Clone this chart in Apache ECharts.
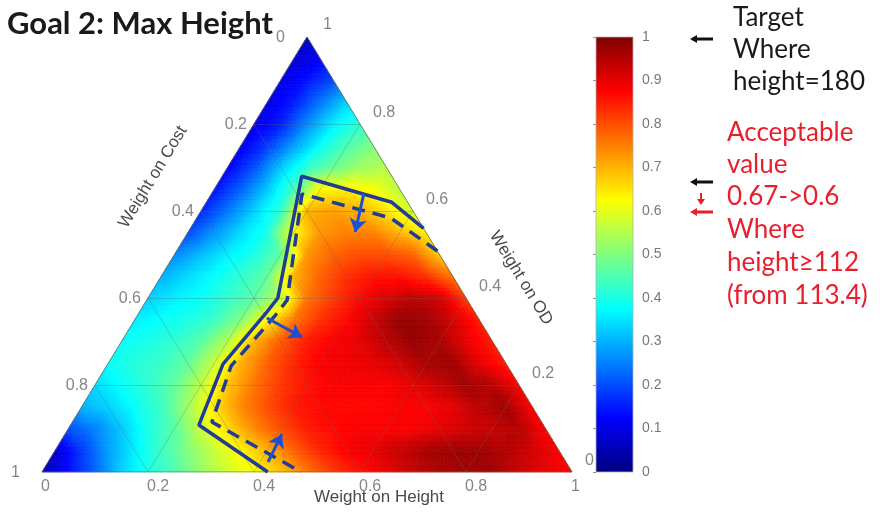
<!DOCTYPE html>
<html>
<head>
<meta charset="utf-8">
<script src="https://cdn.jsdelivr.net/npm/echarts@6/dist/echarts.min.js"></script>
<style>
  html, body { margin: 0; padding: 0; background: #ffffff; }
  #chart { width: 880px; height: 512px; }
</style>
</head>
<body>
<div id="chart"></div>
<script>
// Ternary weights: h = Weight on Height, c = Weight on Cost, o = Weight on OD (h + c + o = 1).
// Score lattice: one row per OD weight (0, 0.05, ..., 1); each row runs over the Height weight from 0 upward.
const weightStep = 0.05;
const scoreByOdRow = [
  [0.04, 0.13, 0.22, 0.33, 0.40, 0.45, 0.52, 0.58, 0.62, 0.68, 0.76, 0.82, 0.86, 0.90, 0.93, 0.96, 0.97, 0.97, 0.93, 0.90, 0.88],
  [0.08, 0.18, 0.28, 0.36, 0.43, 0.50, 0.57, 0.63, 0.70, 0.78, 0.84, 0.88, 0.90, 0.93, 0.96, 0.97, 0.97, 0.95, 0.92, 0.88],
  [0.20, 0.25, 0.32, 0.40, 0.46, 0.57, 0.66, 0.74, 0.80, 0.85, 0.87, 0.88, 0.88, 0.88, 0.90, 0.92, 0.93, 0.95, 0.88],
  [0.30, 0.33, 0.38, 0.43, 0.53, 0.65, 0.74, 0.80, 0.85, 0.87, 0.87, 0.87, 0.88, 0.88, 0.90, 0.94, 0.97, 0.88],
  [0.34, 0.38, 0.42, 0.47, 0.56, 0.68, 0.76, 0.82, 0.86, 0.88, 0.88, 0.88, 0.90, 0.93, 0.97, 0.95, 0.88],
  [0.38, 0.41, 0.43, 0.47, 0.57, 0.70, 0.78, 0.84, 0.88, 0.89, 0.90, 0.92, 0.96, 0.97, 0.90, 0.85],
  [0.38, 0.40, 0.42, 0.46, 0.55, 0.70, 0.79, 0.85, 0.88, 0.90, 0.94, 0.98, 0.96, 0.90, 0.85],
  [0.36, 0.38, 0.40, 0.43, 0.50, 0.63, 0.76, 0.83, 0.87, 0.93, 0.98, 0.97, 0.92, 0.85],
  [0.33, 0.36, 0.38, 0.42, 0.46, 0.56, 0.76, 0.82, 0.87, 0.91, 0.94, 0.92, 0.82],
  [0.30, 0.34, 0.38, 0.42, 0.47, 0.70, 0.78, 0.83, 0.86, 0.86, 0.83, 0.76],
  [0.26, 0.31, 0.36, 0.40, 0.47, 0.73, 0.78, 0.80, 0.80, 0.78, 0.68],
  [0.20, 0.27, 0.34, 0.40, 0.62, 0.73, 0.75, 0.75, 0.70, 0.64],
  [0.16, 0.24, 0.33, 0.42, 0.70, 0.72, 0.70, 0.65, 0.58],
  [0.14, 0.22, 0.32, 0.44, 0.63, 0.64, 0.62, 0.56],
  [0.12, 0.20, 0.32, 0.42, 0.48, 0.53, 0.55],
  [0.11, 0.18, 0.28, 0.38, 0.45, 0.50],
  [0.10, 0.15, 0.26, 0.36, 0.42],
  [0.10, 0.15, 0.24, 0.33],
  [0.10, 0.14, 0.20],
  [0.08, 0.12],
  [0.06]
];

// Axis ticks and labels
const ternaryTicks = [0, 0.2, 0.4, 0.6, 0.8, 1];
const heightTickLabels = ['0', '0.2', '0.4', '0.6', '0.8', '1'];
const costTickLabels = ['0', '0.2', '0.4', '0.6', '0.8', '1'];
const odTickLabels = ['0', '0.2', '0.4', '0.6', '0.8', '1'];
const innerGridWeights = [0.2, 0.4, 0.6, 0.8];
const colorbarTicks = [0, 0.1, 0.2, 0.3, 0.4, 0.5, 0.6, 0.7, 0.8, 0.9, 1];

// Acceptable-region boundaries as [Height weight, OD weight]
const boundaryAt067 = [[0.44, 0.56], [0.35, 0.62], [0.15, 0.68], [0.245, 0.40], [0.24, 0.365], [0.2175, 0.248], [0.242, 0.108], [0.426, 0]];
const boundaryAt060 = [[0.492, 0.508], [0.366, 0.584], [0.171, 0.639], [0.265, 0.395], [0.26, 0.359], [0.235, 0.244], [0.263, 0.115], [0.489, 0]];
const boundaryShifts = [
  [[0.287, 0.641], [0.315, 0.552]],
  [[0.2475, 0.354], [0.3355, 0.31]],
  [[0.415, 0.023], [0.409, 0.087]]
];

// ---- helpers ----
// Ternary (h, o) -> plane coordinates of the triangle grid (Height corner right, OD corner on top)
const toXY = (h, o) => [h + o / 2, o];
const clamp01 = v => Math.max(0, Math.min(1, v));
function jetColor(v) {
  v = clamp01(v);
  const r = clamp01(1.5 - Math.abs(4 * v - 3));
  const g = clamp01(1.5 - Math.abs(4 * v - 2));
  const b = clamp01(1.5 - Math.abs(4 * v - 1));
  return 'rgb(' + Math.round(r * 255) + ',' + Math.round(g * 255) + ',' + Math.round(b * 255) + ')';
}

// Triangular cells of the score lattice
const nSteps = scoreByOdRow.length - 1;
const vertexOf = (i, k) => {
  const p = toXY(i * weightStep, k * weightStep);
  return [p[0], p[1], scoreByOdRow[k][i]];
};
const cellData = [];
for (let k = 0; k < nSteps; k++) {
  for (let i = 0; i < nSteps - k; i++) {
    cellData.push([].concat(vertexOf(i, k), vertexOf(i + 1, k), vertexOf(i, k + 1)));
    if (i < nSteps - k - 1) {
      cellData.push([].concat(vertexOf(i + 1, k), vertexOf(i + 1, k + 1), vertexOf(i, k + 1)));
    }
  }
}

// Interpolated shading of one lattice cell
function renderCell(params, api) {
  const P = [0, 1, 2].map(j => api.coord([api.value(3 * j), api.value(3 * j + 1)]));
  const V = [0, 1, 2].map(j => api.value(3 * j + 2));
  const n = 6;
  const at = (a, b) => {
    const w1 = a / n, w2 = b / n, w0 = 1 - w1 - w2;
    return [w0 * P[0][0] + w1 * P[1][0] + w2 * P[2][0], w0 * P[0][1] + w1 * P[1][1] + w2 * P[2][1]];
  };
  const valAt = (a, b) => {
    const w1 = a / n, w2 = b / n, w0 = 1 - w1 - w2;
    return w0 * V[0] + w1 * V[1] + w2 * V[2];
  };
  const children = [];
  const tri = (p, q, r, v) => {
    const c = jetColor(v);
    children.push({
      type: 'polygon',
      shape: { points: [p, q, r] },
      style: { fill: c, stroke: c, lineWidth: 0.7 },
      silent: true
    });
  };
  for (let a = 0; a < n; a++) {
    for (let b = 0; b < n - a; b++) {
      tri(at(a, b), at(a + 1, b), at(a, b + 1), (valAt(a, b) + valAt(a + 1, b) + valAt(a, b + 1)) / 3);
      if (a + b < n - 1) {
        tri(at(a + 1, b), at(a + 1, b + 1), at(a, b + 1), (valAt(a + 1, b) + valAt(a + 1, b + 1) + valAt(a, b + 1)) / 3);
      }
    }
  }
  return { type: 'group', children: children };
}

// Inner grid lines at constant Height, OD and Cost weights
const gridSegments = [];
innerGridWeights.forEach(t => {
  gridSegments.push({ coords: [toXY(t, 0), toXY(t, 1 - t)] });
  gridSegments.push({ coords: [toXY(0, t), toXY(1 - t, t)] });
  gridSegments.push({ coords: [toXY(1 - t, 0), toXY(0, 1 - t)] });
});
const outline = [toXY(0, 0), toXY(1, 0), toXY(0, 1), toXY(0, 0)];

const tickFont = { fontFamily: 'Liberation Sans', fontSize: 16, color: '#666666' };
const heightLabelData = ternaryTicks.map((t, idx) => ({
  value: toXY(t, 0),
  label: Object.assign({ formatter: heightTickLabels[idx], align: 'left', verticalAlign: 'middle', offset: [-1, 15] }, tickFont)
}));
const costLabelData = ternaryTicks.map((t, idx) => {
  const corner = (idx === 0 || idx === ternaryTicks.length - 1);
  return {
    value: toXY(0, 1 - t),
    label: Object.assign({ formatter: costTickLabels[idx], align: 'right', verticalAlign: 'middle', offset: [corner ? -22 : -7, 1] }, tickFont)
  };
});
const odLabelData = ternaryTicks.map((t, idx) => ({
  value: toXY(1 - t, t),
  label: Object.assign({ formatter: odTickLabels[idx], align: 'left', verticalAlign: 'middle', offset: [idx === ternaryTicks.length - 1 ? 16 : 13, idx === ternaryTicks.length - 1 ? -12 : -11] }, tickFont)
}));
const labelSeries = data => ({
  type: 'scatter', xAxisIndex: 0, yAxisIndex: 0, symbolSize: 0, silent: true, z: 8,
  label: { show: true, position: 'inside' },
  data: data
});

const colorbarGradient = new echarts.graphic.LinearGradient(0, 1, 0, 0,
  [0, 0.125, 0.375, 0.625, 0.875, 1].map(s => ({ offset: s, color: jetColor(s) })));

const boundaryBlue = '#1f3d96';
const arrowBlue = '#1d4fd1';
const noteFont = 'Lato';
const noteSize = 26;

const option = {
  animation: false,
  backgroundColor: '#ffffff',
  grid: [
    { left: 42, top: 37, width: 530, height: 435 },
    { left: 596, top: 37, width: 37, height: 435 }
  ],
  xAxis: [
    { type: 'value', gridIndex: 0, min: 0, max: 1, show: false },
    { type: 'value', gridIndex: 1, min: 0, max: 1, show: false }
  ],
  yAxis: [
    { type: 'value', gridIndex: 0, min: 0, max: 1, show: false },
    {
      type: 'value', gridIndex: 1, min: 0, max: 1, interval: 0.1, position: 'right',
      axisLine: { show: true, lineStyle: { color: '#a0a0a0', width: 1 } },
      axisTick: { show: true, inside: true, length: 3, lineStyle: { color: '#909090' } },
      splitLine: { show: false },
      axisLabel: {
        margin: 9, color: '#777777', fontFamily: 'Liberation Sans', fontSize: 14,
        formatter: v => {
          const t = colorbarTicks.find(c => Math.abs(c - v) < 1e-6);
          return t === undefined ? '' : String(Math.round(t * 10) / 10);
        }
      }
    }
  ],
  series: [
    {
      type: 'custom', xAxisIndex: 0, yAxisIndex: 0, silent: true, clip: false, z: 1,
      renderItem: renderCell,
      data: cellData
    },
    {
      type: 'lines', coordinateSystem: 'cartesian2d', xAxisIndex: 0, yAxisIndex: 0, silent: true, z: 3,
      lineStyle: { color: 'rgba(100,110,100,0.32)', width: 1, opacity: 1 },
      data: gridSegments
    },
    {
      type: 'line', xAxisIndex: 0, yAxisIndex: 0, silent: true, z: 4, symbol: 'none',
      lineStyle: { color: '#6a6a50', width: 0.8 },
      data: outline
    },
    {
      type: 'line', xAxisIndex: 0, yAxisIndex: 0, silent: true, z: 5, symbol: 'none',
      lineStyle: { color: boundaryBlue, width: 3.5 },
      data: boundaryAt067.map(p => toXY(p[0], p[1]))
    },
    {
      type: 'line', xAxisIndex: 0, yAxisIndex: 0, silent: true, z: 5, symbol: 'none',
      lineStyle: { color: boundaryBlue, width: 3.5, type: [13, 8] },
      data: boundaryAt060.map(p => toXY(p[0], p[1]))
    },
    {
      type: 'lines', coordinateSystem: 'cartesian2d', xAxisIndex: 0, yAxisIndex: 0, silent: true, z: 6,
      symbol: ['none', 'arrow'], symbolSize: 13,
      lineStyle: { color: arrowBlue, width: 3, opacity: 1 },
      data: boundaryShifts.map(s => ({ coords: [toXY(s[0][0], s[0][1]), toXY(s[1][0], s[1][1])] }))
    },
    labelSeries(heightLabelData),
    labelSeries(costLabelData),
    labelSeries(odLabelData),
    {
      type: 'custom', xAxisIndex: 1, yAxisIndex: 1, silent: true, z: 1,
      renderItem: (params, api) => {
        const tl = api.coord([0, 1]);
        const br = api.coord([1, 0]);
        return {
          type: 'rect',
          shape: { x: tl[0], y: tl[1], width: br[0] - tl[0], height: br[1] - tl[1] },
          style: { fill: colorbarGradient, stroke: '#b0b0b0', lineWidth: 0.8 }
        };
      },
      data: [[0, 0]]
    }
  ],
  graphic: [
    { type: 'text', x: 7, y: 24, style: { text: 'Goal 2: Max Height', fontFamily: 'Lato', fontWeight: 'bold', fontSize: 31, fill: '#1a1a1a', verticalAlign: 'middle', align: 'left' } },
    { type: 'text', x: 153, y: 177, rotation: 1.023, style: { text: 'Weight on Cost', fontFamily: 'Liberation Sans', fontSize: 17, fill: '#4a4a4a', align: 'center', verticalAlign: 'middle' } },
    { type: 'text', x: 521, y: 278, rotation: -1.023, style: { text: 'Weight on OD', fontFamily: 'Liberation Sans', fontSize: 17, fill: '#4a4a4a', align: 'center', verticalAlign: 'middle' } },
    { type: 'text', x: 379, y: 497, style: { text: 'Weight on Height', fontFamily: 'Liberation Sans', fontSize: 17, fill: '#4a4a4a', align: 'center', verticalAlign: 'middle' } },

    { type: 'text', x: 733, y: 18, style: { text: 'Target', fontFamily: noteFont, fontSize: noteSize, fill: '#1a1a1a', verticalAlign: 'middle' } },
    { type: 'text', x: 733, y: 50, style: { text: 'Where', fontFamily: noteFont, fontSize: noteSize, fill: '#1a1a1a', verticalAlign: 'middle' } },
    { type: 'text', x: 733, y: 82, style: { text: 'height=180', fontFamily: noteFont, fontSize: noteSize, fill: '#1a1a1a', verticalAlign: 'middle' } },

    { type: 'text', x: 727, y: 133, style: { text: 'Acceptable', fontFamily: noteFont, fontSize: noteSize, fill: '#e8202e', verticalAlign: 'middle' } },
    { type: 'text', x: 727, y: 165, style: { text: 'value', fontFamily: noteFont, fontSize: noteSize, fill: '#e8202e', verticalAlign: 'middle' } },
    { type: 'text', x: 727, y: 197, style: { text: '0.67->0.6', fontFamily: noteFont, fontSize: noteSize, fill: '#e8202e', verticalAlign: 'middle' } },
    { type: 'text', x: 727, y: 230, style: { text: 'Where', fontFamily: noteFont, fontSize: noteSize, fill: '#e8202e', verticalAlign: 'middle' } },
    { type: 'text', x: 727, y: 263, style: { text: 'height≥112', fontFamily: noteFont, fontSize: noteSize, fill: '#e8202e', verticalAlign: 'middle' } },
    { type: 'text', x: 727, y: 296, style: { text: '(from 113.4)', fontFamily: noteFont, fontSize: noteSize, fill: '#e8202e', verticalAlign: 'middle' } },

    { type: 'polygon', shape: { points: [[690, 39], [697, 35], [697, 37.5], [713, 37.5], [713, 40.5], [697, 40.5], [697, 43]] }, style: { fill: '#111111' } },
    { type: 'polygon', shape: { points: [[690, 182], [697, 178], [697, 180.5], [713, 180.5], [713, 183.5], [697, 183.5], [697, 186]] }, style: { fill: '#111111' } },
    { type: 'polygon', shape: { points: [[700, 193], [702, 193], [702, 199], [705, 199], [701, 205], [697, 199], [700, 199]] }, style: { fill: '#e8202e' } },
    { type: 'polygon', shape: { points: [[690, 212], [697, 208], [697, 210.5], [713, 210.5], [713, 213.5], [697, 213.5], [697, 216]] }, style: { fill: '#e8202e' } }
  ]
};

const chart = echarts.init(document.getElementById('chart'), null, { renderer: 'canvas' });
chart.setOption(option);
</script>
</body>
</html>
